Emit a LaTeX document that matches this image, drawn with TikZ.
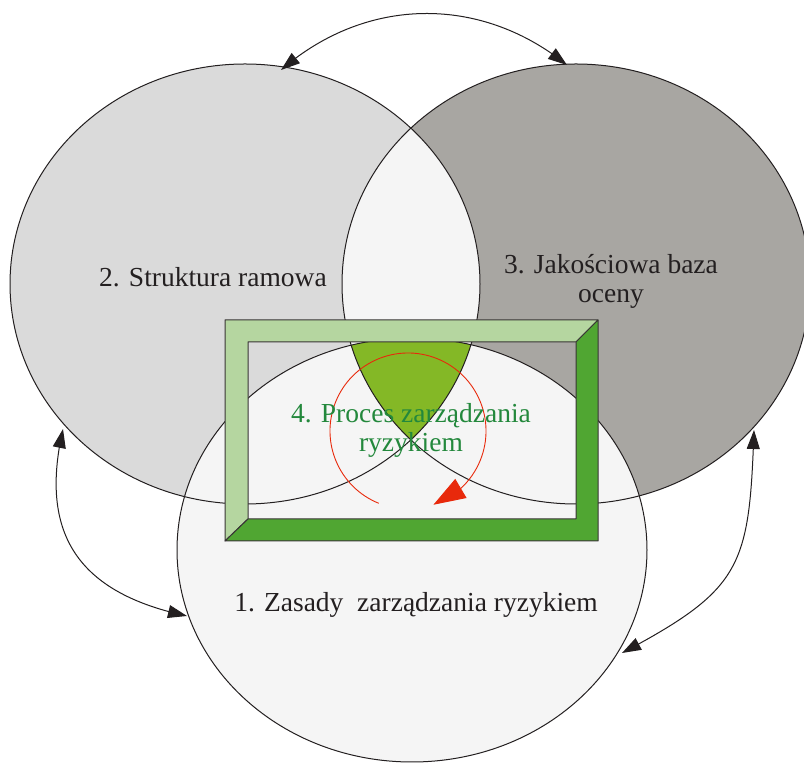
\documentclass[tikz,border=0pt]{standalone}
\usepackage{fontspec}
\setmainfont{Liberation Serif}
\usetikzlibrary{arrows.meta,bending}

\definecolor{setone}{HTML}{F5F5F5}
\definecolor{settwo}{HTML}{DADADA}
\definecolor{setthree}{HTML}{A8A6A2}
\definecolor{core}{HTML}{84B826}
\definecolor{framelight}{HTML}{B5D6A0}
\definecolor{framedark}{HTML}{50A632}
\definecolor{procgreen}{HTML}{23883C}
\definecolor{loopred}{HTML}{E8290B}
\definecolor{ink}{HTML}{231F20}

\begin{document}
\begin{tikzpicture}[x=1pt, y=1pt,
    setlabel/.style={font=\fontsize{27.5}{29}\selectfont, text=ink, align=center, anchor=base},
    link/.style={ink, line width=1pt, {Triangle[length=19pt,width=13pt]}-{Triangle[length=19pt,width=13pt]}}]
    \useasboundingbox (0,0) rectangle (804,763);

    % draw the sets
    \fill[settwo] (245,479) ellipse (235pt and 220pt);
    \fill[setthree] (576,479) ellipse (234pt and 220pt);
    \fill[setone] (412,213) ellipse (235pt and 212pt);
    % the overlaps (2 and 3, then all three)
    \begin{scope}
        \clip (245,479) ellipse (235pt and 220pt);
        \fill[setone] (576,479) ellipse (234pt and 220pt);
        \clip (412,213) ellipse (235pt and 212pt);
        \fill[core] (576,479) ellipse (234pt and 220pt);
    \end{scope}
    \draw[ink, line width=1pt] (245,479) ellipse (235pt and 220pt);
    \draw[ink, line width=1pt] (576,479) ellipse (234pt and 220pt);
    \draw[ink, line width=1pt] (412,213) ellipse (235pt and 212pt);

    % the frame (outer and inner corners)
    \coordinate (otl) at (225,443);
    \coordinate (otr) at (598,443);
    \coordinate (obr) at (598,222);
    \coordinate (obl) at (225,222);
    \coordinate (itl) at (248,421);
    \coordinate (itr) at (576,421);
    \coordinate (ibr) at (576,244);
    \coordinate (ibl) at (248,244);
    \filldraw[fill=framelight, draw=ink!90, line width=1pt, line join=round]
        (otl) -- (otr) -- (itr) -- (itl) -- (ibl) -- (obl) -- cycle;
    \filldraw[fill=framedark, draw=ink!90, line width=1pt, line join=round]
        (otr) -- (obr) -- (obl) -- (ibl) -- (ibr) -- (itr) -- cycle;

    % the loop of the process
    \draw[loopred, line width=0.9pt, -{Triangle[length=32pt,width=22pt]}]
        (408,332) ++(248:78pt) arc[start angle=248, end angle=-71, radius=78pt];

    % the texts (base = baseline of the last line)
    \node[setlabel] (two) at (213,476) {2. Struktura ramowa};
    \node[setlabel] (three) at (611,460) {3. Jakościowa baza\\oceny};
    \node[setlabel] (one) at (416,151) {1. Zasady\ \ zarządzania ryzykiem};
    \node[setlabel, text=procgreen] (proc) at (411,311) {4. Proces zarządzania\\ryzykiem};

    % the points on the sets where the arrows end
    \coordinate (t2) at (281,693);
    \coordinate (t3) at (567,698);
    \coordinate (l2) at (63,334);
    \coordinate (l1) at (187,147);
    \coordinate (r3) at (754,333);
    \coordinate (r1) at (622,110);

    % draw the arrows
    \draw[link] (t2) to[bend left=40] (t3);
    \draw[link] (l2) to[out=257, in=168, looseness=1.25] (l1);
    \draw[link] (r3) to[out=268, in=28, looseness=1.35] (r1);
\end{tikzpicture}
\end{document}
